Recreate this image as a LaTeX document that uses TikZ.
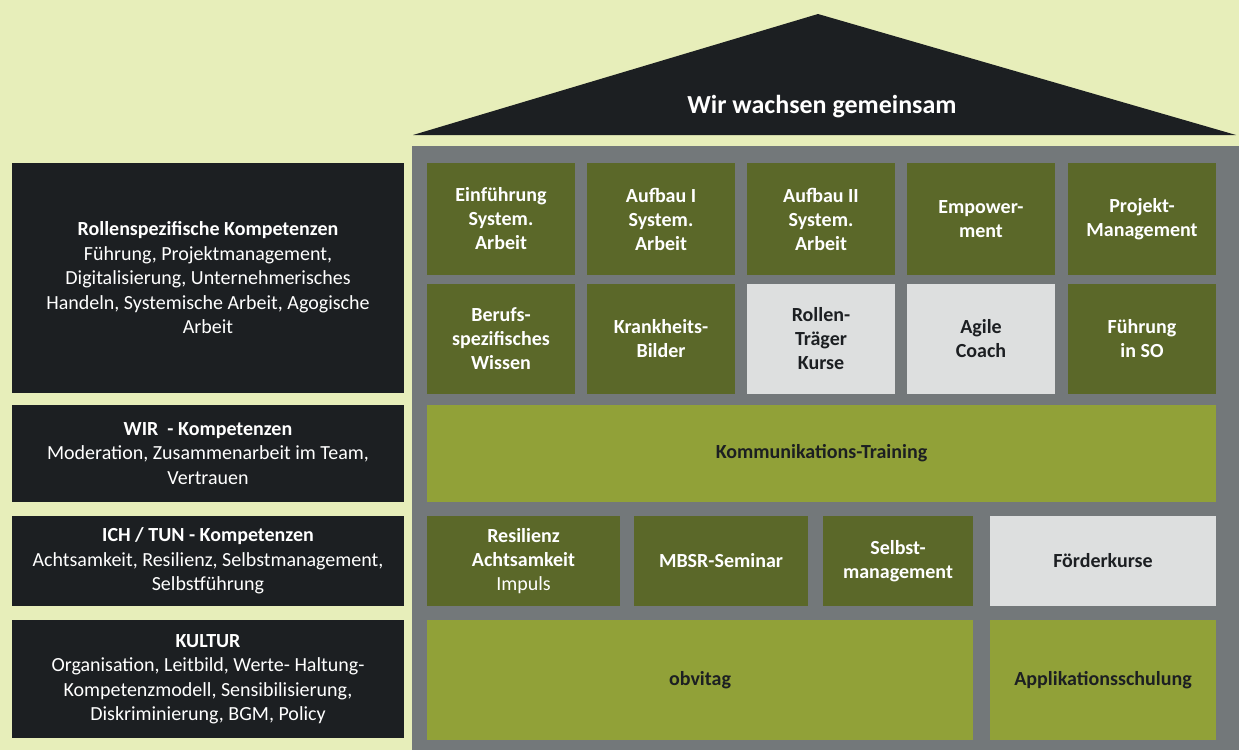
\documentclass[tikz,border=0pt]{standalone}
\usepackage{fontspec}
\setmainfont{Carlito}
\definecolor{bgc}{RGB}{231,238,186}
\definecolor{darkc}{RGB}{28,31,34}
\definecolor{grayc}{RGB}{115,120,122}
\definecolor{olived}{RGB}{91,104,41}
\definecolor{olivel}{RGB}{145,161,56}
\definecolor{lgray}{RGB}{221,223,223}
\tikzset{
  base/.style={inner sep=0pt, align=center, font=\fontsize{20}{24.5}\selectfont},
  panel/.style={base, fill=darkc, text=white},
  odark/.style={base, fill=olived, text=white, font=\bfseries\fontsize{20}{24}\selectfont},
  olight/.style={base, fill=olivel, text=darkc, font=\bfseries\fontsize{20}{24}\selectfont},
  lbox/.style={base, fill=lgray, text=darkc, font=\bfseries\fontsize{20}{24}\selectfont},
}
% \bx{style}{name}{x1}{y1}{x2}{y2}{text}
\newcommand\bx[7]{\node[#1, minimum width={#5-#3}, minimum height={#6-#4}] (#2) at ({(#3+#5)/2},{(#4+#6)/2}) {#7};}
\begin{document}
\begin{tikzpicture}[x=1pt,y=-1pt]
\fill[bgc] (0,0) rectangle (1239,750);
\useasboundingbox (0,0) rectangle (1239,750);
% roof
\fill[darkc] (413,135) -- (818,14) -- (1236,135) -- cycle;
\node[base, text=white, font=\bfseries\fontsize{26}{30}\selectfont] (roof) at (822,107) {Wir wachsen gemeinsam};
% house body
\bx{fill=grayc, inner sep=0pt}{house}{412}{146}{1239}{750}{}
% left panels
\bx{panel}{p1}{12}{163}{404}{393}{\textbf{Rollenspezifische Kompetenzen}\\Führung, Projektmanagement,\\Digitalisierung, Unternehmerisches\\Handeln, Systemische Arbeit, Agogische\\Arbeit}
\bx{panel}{p2}{12}{405}{404}{502}{\textbf{WIR\ \ - Kompetenzen}\\Moderation, Zusammenarbeit im Team,\\Vertrauen}
\bx{panel}{p3}{12}{516}{404}{606}{\textbf{ICH / TUN - Kompetenzen}\\Achtsamkeit, Resilienz, Selbstmanagement,\\Selbstführung}
\bx{panel}{p4}{12}{620}{404}{738}{\textbf{KULTUR}\\Organisation, Leitbild, Werte- Haltung-\\Kompetenzmodell, Sensibilisierung,\\Diskriminierung, BGM, Policy}
% row 1
\bx{odark}{a1}{427}{163}{575}{275}{Einführung\\System.\\Arbeit}
\bx{odark}{a2}{587}{163}{735}{275}{Aufbau I\\System.\\Arbeit}
\bx{odark}{a3}{747}{163}{895}{275}{Aufbau II\\System.\\Arbeit}
\bx{odark}{a4}{907}{163}{1055}{275}{Empower-\\ment}
\bx{odark}{a5}{1068}{163}{1216}{275}{Projekt-\\Management}
% row 2
\bx{odark}{b1}{427}{284}{575}{394}{Berufs-\\spezifisches\\Wissen}
\bx{odark}{b2}{587}{284}{735}{394}{Krankheits-\\Bilder}
\bx{lbox}{b3}{747}{284}{895}{394}{Rollen-\\Träger\\Kurse}
\bx{lbox}{b4}{907}{284}{1055}{394}{Agile\\Coach}
\bx{odark}{b5}{1068}{284}{1216}{394}{Führung\\in SO}
% row 3
\bx{olight}{c1}{427}{405}{1216}{502}{Kommunikations-Training}
% row 4
\bx{odark}{d1}{427}{516}{620}{606}{Resilienz\\Achtsamkeit\\{\mdseries Impuls}}
\bx{odark}{d2}{634}{516}{808}{606}{MBSR-Seminar}
\bx{odark}{d3}{823}{516}{973}{606}{Selbst-\\management}
\bx{lbox}{d4}{990}{516}{1216}{606}{Förderkurse}
% row 5
\bx{olight}{e1}{427}{620}{973}{740}{obvitag}
\bx{olight}{e2}{990}{620}{1216}{740}{Applikationsschulung}
\end{tikzpicture}
\end{document}
